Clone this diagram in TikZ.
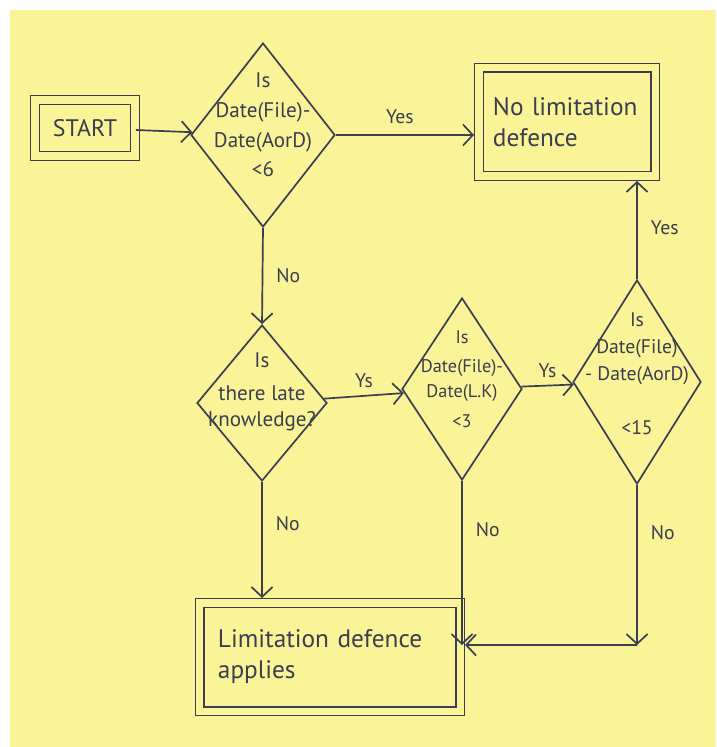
\documentclass[tikz,border=0pt]{standalone}
\usepackage{fontspec}
\setmainfont{PT Sans}
\usetikzlibrary{arrows.meta,shapes.geometric,positioning}

\definecolor{note}{RGB}{250,243,152}
\definecolor{pen}{RGB}{58,62,78}

\begin{document}
\begin{tikzpicture}[x=0.025cm, y=-0.025cm,
    decision/.style={diamond, draw=pen, line width=1.2pt, inner sep=0pt},
    endbox/.style={rectangle, draw=pen, line width=1.1pt, double=note, double distance=5pt,
      align=left, text=pen, font=\fontsize{18}{22}\selectfont},
    ask/.style={align=center, text=pen},
    answer/.style={text=pen, font=\fontsize{14}{16}\selectfont},
    flow/.style={draw=pen, line width=1.2pt, -{Straight Barb[length=7pt,width=15pt]}}]

  % Note paper
  \useasboundingbox (0,0) rectangle (716,747);
  \fill[white] (0,0) rectangle (716,747);
  \fill[note] (10,10) rectangle (716,747);

  % Boxes
  \node[endbox, minimum width=2.5cm, minimum height=1.4cm, align=center,
    font=\fontsize{17}{20}\selectfont] (start) at (85,128) {START};
  \node[endbox, minimum width=4.4cm, minimum height=2.7cm, text width=3.7cm] (nolim) at (567,122)
    {No limitation\\defence};
  \node[endbox, minimum width=6.5cm, minimum height=2.7cm, text width=5.6cm] (lim) at (330,657)
    {Limitation defence\\applies};

  % Decisions
  \node[decision, minimum width=3.6cm, minimum height=4.6cm] (q1) at (263,135) {};
  \node[ask, font=\fontsize{15}{21}\selectfont] (q1txt) at ([yshift=0.25cm]q1)
    {Is\\Date(File)-\\Date(AorD)\\<6};

  \node[decision, minimum width=3.25cm, minimum height=3.9cm] (q2) at (262,403) {};
  \node[ask, font=\fontsize{15}{19}\selectfont] (q2txt) at ([yshift=0.27cm]q2)
    {Is\\[4pt]there late\\knowledge?};

  \node[decision, minimum width=3.0cm, minimum height=4.55cm] (q3) at (462,389) {};
  \node[ask, font=\fontsize{13}{18}\selectfont] (q3txt) at ([yshift=0.25cm]q3)
    {Is\\[3pt]Date(File)-\\Date(L.K)\\[3pt]<3};

  \node[decision, minimum width=3.2cm, minimum height=5.1cm] (q4) at (637,382) {};
  \node[ask, font=\fontsize{14}{19}\selectfont] (q4txt) at ([yshift=0.2cm]q4)
    {Is\\Date(File)\\- Date(AorD)\\[20pt]<15};

  % Connectors
  \coordinate (join) at ([yshift=0.3cm]q4.south |- lim.east);

  \draw[flow] (start) -- (q1);
  \draw[flow, shorten >=3pt] (q1.east) -- node[answer, above=4pt, pos=.45] (yes1) {Yes} (q1.east -| nolim.west);
  \draw[flow] (q1.south) -- node[answer, right=6pt] (no1) {No} (q2.north);
  \draw[flow] (q2) -- node[answer, above=2pt] (ys1) {Ys} (q3);
  \draw[flow] (q3) -- node[answer, above=2pt] (ys2) {Ys} (q4);
  \draw[flow, shorten >=3pt] (q4.north) -- node[answer, right=6pt] (yes2) {Yes} (q4.north |- nolim.south);
  \draw[flow, shorten >=3pt] (q2.south) -- node[answer, right=6pt, pos=.35] (no2) {No} (q2.south |- lim.north);
  \draw[flow] (q3.south) -- node[answer, right=6pt, pos=.3] (no3) {No} (q3.south |- join);
  \draw[flow] (q4.south) -- node[answer, right=6pt, pos=.3] (no4) {No} (join);
  \draw[flow, shorten >=3pt] (join) -- (join -| lim.east);

\end{tikzpicture}
\end{document}
